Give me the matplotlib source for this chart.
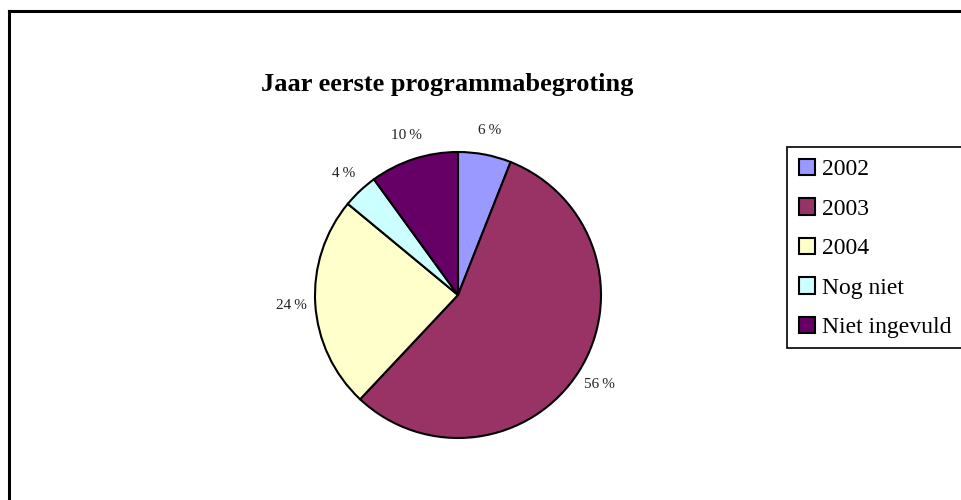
import matplotlib
matplotlib.use('Agg')
import matplotlib.pyplot as plt
from matplotlib.lines import Line2D
from matplotlib.patches import Rectangle

# answers to "jaar eerste programmabegroting" (counts)
categories = ['2002', '2003', '2004', 'Nog niet', 'Niet ingevuld']
counts = [3, 28, 12, 2, 5]
colors = ['#9999FF', '#993366', '#FFFFCC', '#CCFFFF', '#660066']
title = 'Jaar eerste programmabegroting'

plt.rcParams['font.family'] = ['Liberation Serif', 'DejaVu Serif']

W, H = 962, 500
fig = plt.figure(figsize=(W / 100, H / 100), dpi=100)

# pie centred at (458, 295) px, radius 143 px
cx, cy, r = 458, 295, 143
ax = fig.add_axes([(cx - r) / W, 1 - (cy + r) / H, 2 * r / W, 2 * r / H])
wedges, texts, autotexts = ax.pie(
    counts, colors=colors, startangle=90, counterclock=False,
    autopct=lambda p: '%.0f\u2009%%' % p, pctdistance=1.17,
    wedgeprops=dict(edgecolor='black', linewidth=1.5),
    textprops=dict(fontsize=11, color='#222222'))
ax.set_xlim(-1, 1)
ax.set_ylim(-1, 1)
ax.set_aspect('equal')

fig.text(447 / W, 1 - 85 / H, title, ha='center', va='center',
         fontsize=19, fontweight='bold')

# legend box runs off the right edge of the chart area
fig.add_artist(Rectangle((787.5 / W, 1 - 348 / H), 200 / W, 201 / H,
                         transform=fig.transFigure, facecolor='white',
                         edgecolor='black', linewidth=1.2, zorder=1))
leg = fig.legend(wedges, categories, loc='upper left',
                 bbox_to_anchor=(787 / W, 1 - 147 / H),
                 bbox_transform=fig.transFigure,
                 fontsize=17, frameon=False,
                 handlelength=0.7, handleheight=0.7, handletextpad=0.3,
                 labelspacing=0.76, borderpad=0.5, borderaxespad=0)
leg.set_zorder(2)
for h in leg.legend_handles:
    h.set_edgecolor('black')
    h.set_linewidth(1.5)

# chart area border (left and top edges)
fig.add_artist(Line2D([8.5 / W, 8.5 / W], [0, 1 - 11 / H],
                      color='black', lw=2.2, solid_capstyle='projecting',
                      transform=fig.transFigure))
fig.add_artist(Line2D([8.5 / W, 1], [1 - 11 / H, 1 - 11 / H],
                      color='black', lw=2.2, solid_capstyle='projecting',
                      transform=fig.transFigure))

fig.savefig('out.png', dpi=100)
